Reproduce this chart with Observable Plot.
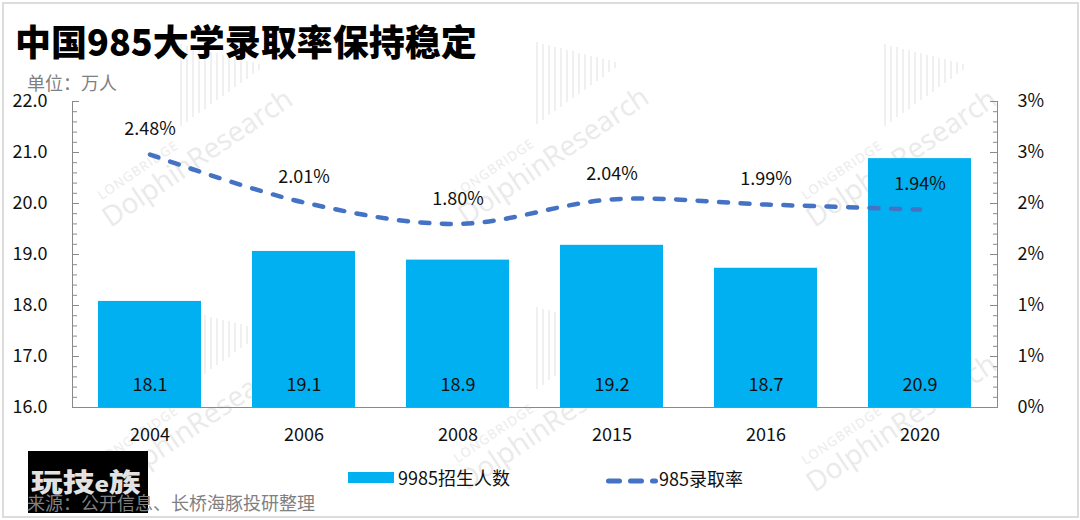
<!DOCTYPE html>
<html><head><meta charset="utf-8">
<script src="https://cdn.jsdelivr.net/npm/d3@7"></script>
<script src="https://cdn.jsdelivr.net/npm/@observablehq/plot@0.6"></script>
<style>
body{margin:0;background:#fff;}
#root{position:relative;width:1080px;height:520px;overflow:hidden;font-family:"Noto Sans CJK SC","Noto Sans",sans-serif;background:#fff;color:#111;}
.abs{position:absolute;white-space:nowrap;}
#chart svg{overflow:visible;}
</style></head><body><div id="root"></div>
<script>
// ---- data ----
const years = ["2004", "2006", "2008", "2015", "2016", "2020"];
const enrollment = [18.08, 19.06, 18.89, 19.18, 18.73, 20.88]; // 万人
const rates = [2.48, 2.01, 1.80, 2.04, 1.99, 1.94];          // %
const leftTicks = [16, 17, 18, 19, 20, 21, 22];
const rightTickLabels = ["0%", "1%", "1%", "2%", "2%", "3%", "3%"];
const seriesNames = ["9985招生人数", "985录取率"];
const titleText = "中国985大学录取率保持稳定";
const unitText = "单位：万人";
const sourceText = "来源：公开信息、长桥海豚投研整理";

const data = years.map((year, i) => ({year, value: enrollment[i], rate: rates[i]}));
const rateToY = r => 16 + r * 2; // right axis 0–3% shares the 16–22 scale
const minorTicks = d3.range(16, 22.0001, 0.2);

const root = document.getElementById("root");
function el(tag, css, html) {
  const e = document.createElement(tag);
  e.className = "abs";
  Object.assign(e.style, css);
  if (html != null) e.innerHTML = html;
  root.appendChild(e);
  return e;
}

// ---- watermarks ----
const wmCenters = [[192,150],[548,148],[896,150],[192,415],[548,413],[896,415]];
for (const [cx, cy] of wmCenters) {
  const n = 14;
  for (let i = 0; i < n; i++) {
    const t = i / (n - 1);
    const top = -106 + t * 20, bottom = -24 - t * 56;
    el("div", {left: (cx - 12 + i * 6) + "px", top: (cy + top) + "px", width: "2px",
      height: Math.max(4, bottom - top) + "px", background: "#f0f0f0"});
  }
  const w = el("div", {left: cx + "px", top: cy + "px", transform: "translate(-50%,-50%) rotate(-34deg)",
    color: "#eaeaea", fontFamily: "'Open Sans',sans-serif", lineHeight: "1"});
  w.innerHTML = `<div style="font-size:13px;letter-spacing:1.2px;padding-left:8px;line-height:16px">LONGBRIDGE</div>` +
    `<div style="font-size:28px;line-height:28px">DolphinResearch</div>`;
}

// ---- chart ----
const axisColor = "#8a8a8a";
const chart = Plot.plot({
  width: 1080,
  height: 400,
  marginTop: 41,
  marginBottom: 53,
  marginLeft: 72,
  marginRight: 83,
  style: {fontFamily: "'Noto Sans CJK SC','Noto Sans',sans-serif", background: "transparent"},
  x: {domain: years, paddingInner: 0.33, paddingOuter: 0.165},
  y: {domain: [16, 22]},
  marks: [
    Plot.barY(data, {x: "year", y1: 16, y2: "value", fill: "#00B0F0"}),
    Plot.frame({anchor: "left", stroke: axisColor}),
    Plot.frame({anchor: "right", stroke: axisColor}),
    Plot.frame({anchor: "bottom", stroke: axisColor}),
    Plot.axisY({anchor: "left", ticks: minorTicks, tickSize: -5, tickFormat: () => "", stroke: axisColor, label: null}),
    Plot.axisY({anchor: "left", ticks: leftTicks, tickSize: -7, tickPadding: 32, tickFormat: d3.format(".1f"),
      stroke: axisColor, fill: "#111", fontSize: 18, label: null}),
    Plot.axisY({anchor: "right", ticks: minorTicks, tickSize: -5, tickFormat: () => "", stroke: axisColor, label: null}),
    Plot.axisY({anchor: "right", ticks: leftTicks, tickSize: -8, tickPadding: 28,
      tickFormat: v => rightTickLabels[Math.round(v - 16)], stroke: axisColor, fill: "#111", fontSize: 18, label: null}),
    Plot.axisX({tickSize: 0, tickPadding: 21, fontSize: 18, fill: "#111", label: null}),
    Plot.line(data, {x: "year", y: d => rateToY(d.rate), curve: "catmull-rom", stroke: "#4472C4",
      strokeWidth: 4.5, strokeDasharray: "9,12.5", strokeLinecap: "round"}),
    Plot.text(data, {x: "year", y: 16, dy: -22, text: d => d3.format(".1f")(d.value), fontSize: 18, fill: "#111"}),
    Plot.text(data, {x: "year", y: d => rateToY(d.rate), dy: -25, text: d => d.rate.toFixed(2) + "%", fontSize: 18, fill: "#111"})
  ]
});
const holder = el("div", {left: "0px", top: "60px"});
holder.id = "chart";
holder.appendChild(chart);

// ---- titles ----
el("div", {left: "15px", top: "21px", fontSize: "36px", lineHeight: "38px", fontWeight: "900", color: "#000"}, titleText);
el("div", {left: "27px", top: "72px", fontSize: "18px", lineHeight: "20px", color: "#7f7f7f"}, unitText);

// ---- legend ----
el("div", {left: "348px", top: "472px", width: "46px", height: "11px", background: "#00B0F0"});
el("div", {left: "398px", top: "466px", fontSize: "18px", lineHeight: "22px", color: "#111"}, seriesNames[0]);
el("div", {left: "600px", top: "470px"},
  `<svg width="60" height="16"><line x1="8.5" y1="8" x2="55.5" y2="8" stroke="#4472C4" stroke-width="5" stroke-linecap="round" stroke-dasharray="11,11"/></svg>`);
el("div", {left: "659px", top: "467px", fontSize: "18px", lineHeight: "22px", color: "#111"}, seriesNames[1]);

// ---- logo & source ----
el("div", {left: "28px", top: "451px", width: "120px", height: "62px", background: "#000"});
el("div", {left: "31px", top: "469px", fontSize: "26px", lineHeight: "24px", fontWeight: "900", color: "#e2e2e2",
  transform: "scaleX(1.22)", transformOrigin: "left center"},
  `玩技<span style="font-size:20px">e</span>族`);
el("div", {left: "27px", top: "493px", fontSize: "18px", lineHeight: "18px", color: "#808080"}, sourceText);

// ---- border ----
el("div", {left: "2px", top: "2px", width: "1073px", height: "512px", border: "2px solid #dcdcdc"});
</script></body></html>
